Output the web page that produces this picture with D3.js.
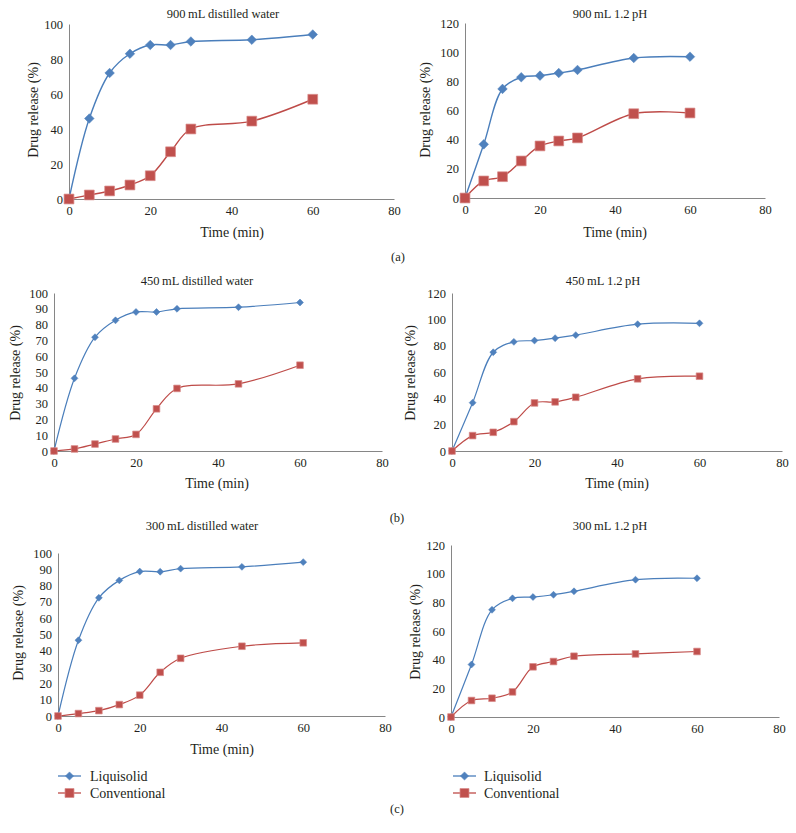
<!DOCTYPE html>
<html><head><meta charset="utf-8">
<script src="https://cdn.jsdelivr.net/npm/d3@7"></script>
<style>
body{margin:0;background:#fff}
text{font-family:"Liberation Serif","Times New Roman",serif;fill:#231f20}
</style>
</head><body>
<svg id="c" width="796" height="833"></svg>
<script>
// ---- data ----
const timeMin = [0,5,10,15,20,25,30,45,60];
const xTicks = [0,20,40,60,80];
const titles = ["900\u2009mL distilled water","900\u2009mL 1.2\u2009pH","450\u2009mL distilled water","450\u2009mL 1.2\u2009pH","300\u2009mL distilled water","300\u2009mL 1.2\u2009pH"];
const liq900w  = [0,46,72,83,88,88,90,91,94];
const conv900w = [0,2.3,4.6,8,13.3,27,40,44.5,57];
const liq900a  = [0,36.8,74.8,82.8,83.9,85.7,87.8,96,96.9];
const conv900a = [0,11.7,14.6,25.4,35.7,39.1,41.2,57.8,58.3];
const liq450w  = [0,46,72,82.7,88,88,90,91,94];
const conv450w = [0,1.3,4.4,7.6,10.5,26.7,39.6,42.5,54.3];
const liq450a  = [0,36.7,75,82.9,83.9,85.7,88,96.3,97];
const conv450a = [0,11.7,14.2,22.3,36.5,37.3,40.8,54.8,56.8];
const liq300w  = [0,46.5,72.5,83.2,88.6,88.5,90.4,91.5,94.4];
const conv300w = [0,1.5,3.3,7,12.8,26.8,35.4,42.8,44.9];
const liq300a  = [0,36.6,74.8,82.8,83.7,85.3,87.7,95.8,96.8];
const conv300a = [0,11.5,13.1,17.5,35,38.7,42.4,44,45.7];
const yMaxes = [100,120,100,120,100,120];
const ySteps = [20,20,10,20,10,20];
const seriesNames = ["Liquisolid","Conventional"];
const panelLabels = ["(a)","(b)","(c)"];
const xLabel = "Time (min)";
const yLabel = "Drug release (%)";

const liqAll = [liq900w,liq900a,liq450w,liq450a,liq300w,liq300a];
const convAll = [conv900w,conv900a,conv450w,conv450a,conv300w,conv300a];

// ---- layout ----
const layout = [
  {x0:69,x1:394,yb:199,yt:24, tx:223,ty:14, ylx:33,yly:110, xlx:232,xly:232, big:true},
  {x0:465,x1:765,yb:198,yt:23, tx:610,ty:14, ylx:425,yly:110, xlx:615,xly:232, big:true},
  {x0:54,x1:382,yb:451,yt:293, tx:197,ty:281, ylx:15,yly:373, xlx:217,xly:483, big:false},
  {x0:452,x1:782,yb:451,yt:293, tx:603,ty:281, ylx:410,yly:373, xlx:617,xly:483, big:false},
  {x0:58,x1:385,yb:716,yt:553, tx:202,ty:526, ylx:18,yly:633, xlx:222,xly:749, big:false},
  {x0:451,x1:779,yb:717,yt:545, tx:610,ty:526, ylx:415,yly:632, xlx:null,xly:null, big:false}
];
const labelPos = [{x:398,y:257},{x:397,y:518},{x:397,y:809}];
const legendPos = [{x0:58,x1:81,tx:90,y:776,dy:17},{x0:453,x1:476,tx:484,y:776,dy:17}];

const blue = "#4A7EBB", blueFill = "#4F81BD";
const red = "#BE4B48", redFill = "#C0504D";
const axisCol = "#868686";

const svg = d3.select("#c");

function marker(g, type, x, y, big, legend){
  if(type===0){
    const size = legend ? 34 : (big ? 46 : 24);
    g.append("path").attr("d", d3.symbol(d3.symbolSquare, size)())
      .attr("transform",`translate(${x},${y}) rotate(45)`)
      .attr("fill",blueFill).attr("stroke",blueFill).attr("stroke-width",0.5);
  } else {
    const size = legend ? 80 : (big ? 96 : 44);
    g.append("path").attr("d", d3.symbol(d3.symbolSquare, size)())
      .attr("transform",`translate(${x},${y})`)
      .attr("fill",redFill).attr("stroke","#d98a88").attr("stroke-width",0.7);
  }
}

layout.forEach((L,i)=>{
  const g = svg.append("g");
  const x = d3.scaleLinear().domain([0,80]).range([L.x0,L.x1]);
  const y = d3.scaleLinear().domain([0,yMaxes[i]]).range([L.yb,L.yt]);
  const yt = d3.range(0,yMaxes[i]+0.001,ySteps[i]);

  const ya = g.append("g").attr("transform",`translate(${L.x0},0)`)
    .call(d3.axisLeft(y).tickValues(yt).tickSize(0).tickSizeOuter(0).tickPadding(6));
  const xa = g.append("g").attr("transform",`translate(0,${L.yb})`)
    .call(d3.axisBottom(x).tickValues(xTicks).tickSize(0).tickSizeOuter(0).tickPadding(7));
  [ya,xa].forEach(a=>{
    a.attr("font-family",null);
    a.select(".domain").attr("stroke",axisCol).attr("stroke-width",1);
    a.selectAll("text").attr("font-size",12.5).attr("fill","#231f20");
  });

  g.append("text").attr("x",L.tx).attr("y",L.ty).attr("dy","0.35em")
    .attr("text-anchor","middle").attr("font-size",12.5).text(titles[i]);
  g.append("text").attr("transform",`translate(${L.ylx},${L.yly}) rotate(-90)`)
    .attr("dy","0.35em").attr("text-anchor","middle").attr("font-size",14).text(yLabel);
  if(L.xlx!==null){
    g.append("text").attr("x",L.xlx).attr("y",L.xly).attr("dy","0.35em")
      .attr("text-anchor","middle").attr("font-size",14).text(xLabel);
  }

  const line = d3.line().x((d,k)=>x(timeMin[k])).y(d=>y(d)).curve(d3.curveCatmullRom.alpha(0.5));
  [liqAll[i],convAll[i]].forEach((vals,s)=>{
    g.append("path").attr("d",line(vals)).attr("fill","none")
      .attr("stroke", s===0?blue:red).attr("stroke-width", L.big?1.4:1.2);
  });
  [liqAll[i],convAll[i]].forEach((vals,s)=>{
    vals.forEach((v,k)=>marker(g,s,x(timeMin[k]),y(v),L.big,false));
  });
});

legendPos.forEach(P=>{
  const g = svg.append("g");
  seriesNames.forEach((name,s)=>{
    const yy = P.y + s*P.dy;
    g.append("line").attr("x1",P.x0).attr("x2",P.x1).attr("y1",yy).attr("y2",yy)
      .attr("stroke", s===0?blue:red).attr("stroke-width",1.3);
    marker(g,s,(P.x0+P.x1)/2,yy,false,true);
    g.append("text").attr("x",P.tx).attr("y",yy).attr("dy","0.35em")
      .attr("font-size",14).text(name);
  });
});

panelLabels.forEach((t,i)=>{
  svg.append("text").attr("x",labelPos[i].x).attr("y",labelPos[i].y).attr("dy","0.35em")
    .attr("text-anchor","middle").attr("font-size",12.5).text(t);
});
</script>
</body></html>
